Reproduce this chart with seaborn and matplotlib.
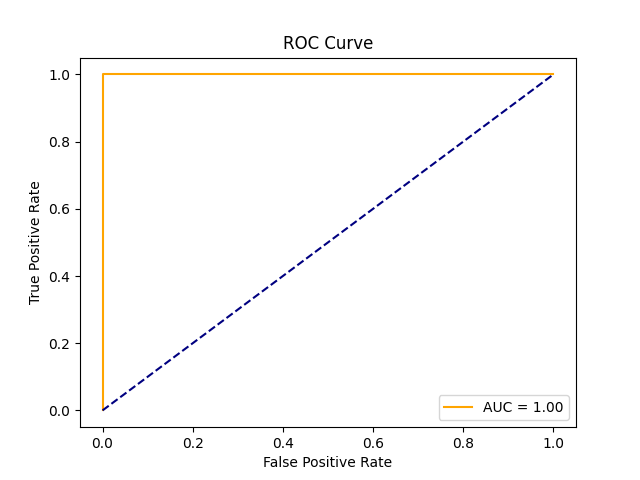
import matplotlib
matplotlib.use('Agg')
import matplotlib.pyplot as plt
import seaborn as sns
import pandas as pd

# ROC points
fpr = [0.0, 0.0, 0.0, 1.0]
tpr = [0.0, 0.5, 1.0, 1.0]
diag_x = [0.0, 1.0]
diag_y = [0.0, 1.0]
auc_label = 'AUC = 1.00'

roc = pd.DataFrame({'fpr': fpr, 'tpr': tpr})
diag = pd.DataFrame({'x': diag_x, 'y': diag_y})

fig, ax = plt.subplots(figsize=(6.4, 4.8), dpi=100)
# estimator=None so repeated fpr values are not averaged
sns.lineplot(data=roc, x='fpr', y='tpr', sort=False, estimator=None,
             color='orange', label=auc_label, ax=ax)
sns.lineplot(data=diag, x='x', y='y', estimator=None, color='navy',
             linestyle='--', ax=ax)
ax.set_xlabel('False Positive Rate')
ax.set_ylabel('True Positive Rate')
ax.set_title('ROC Curve')
ax.legend(loc='lower right')

plt.savefig('out.png')
